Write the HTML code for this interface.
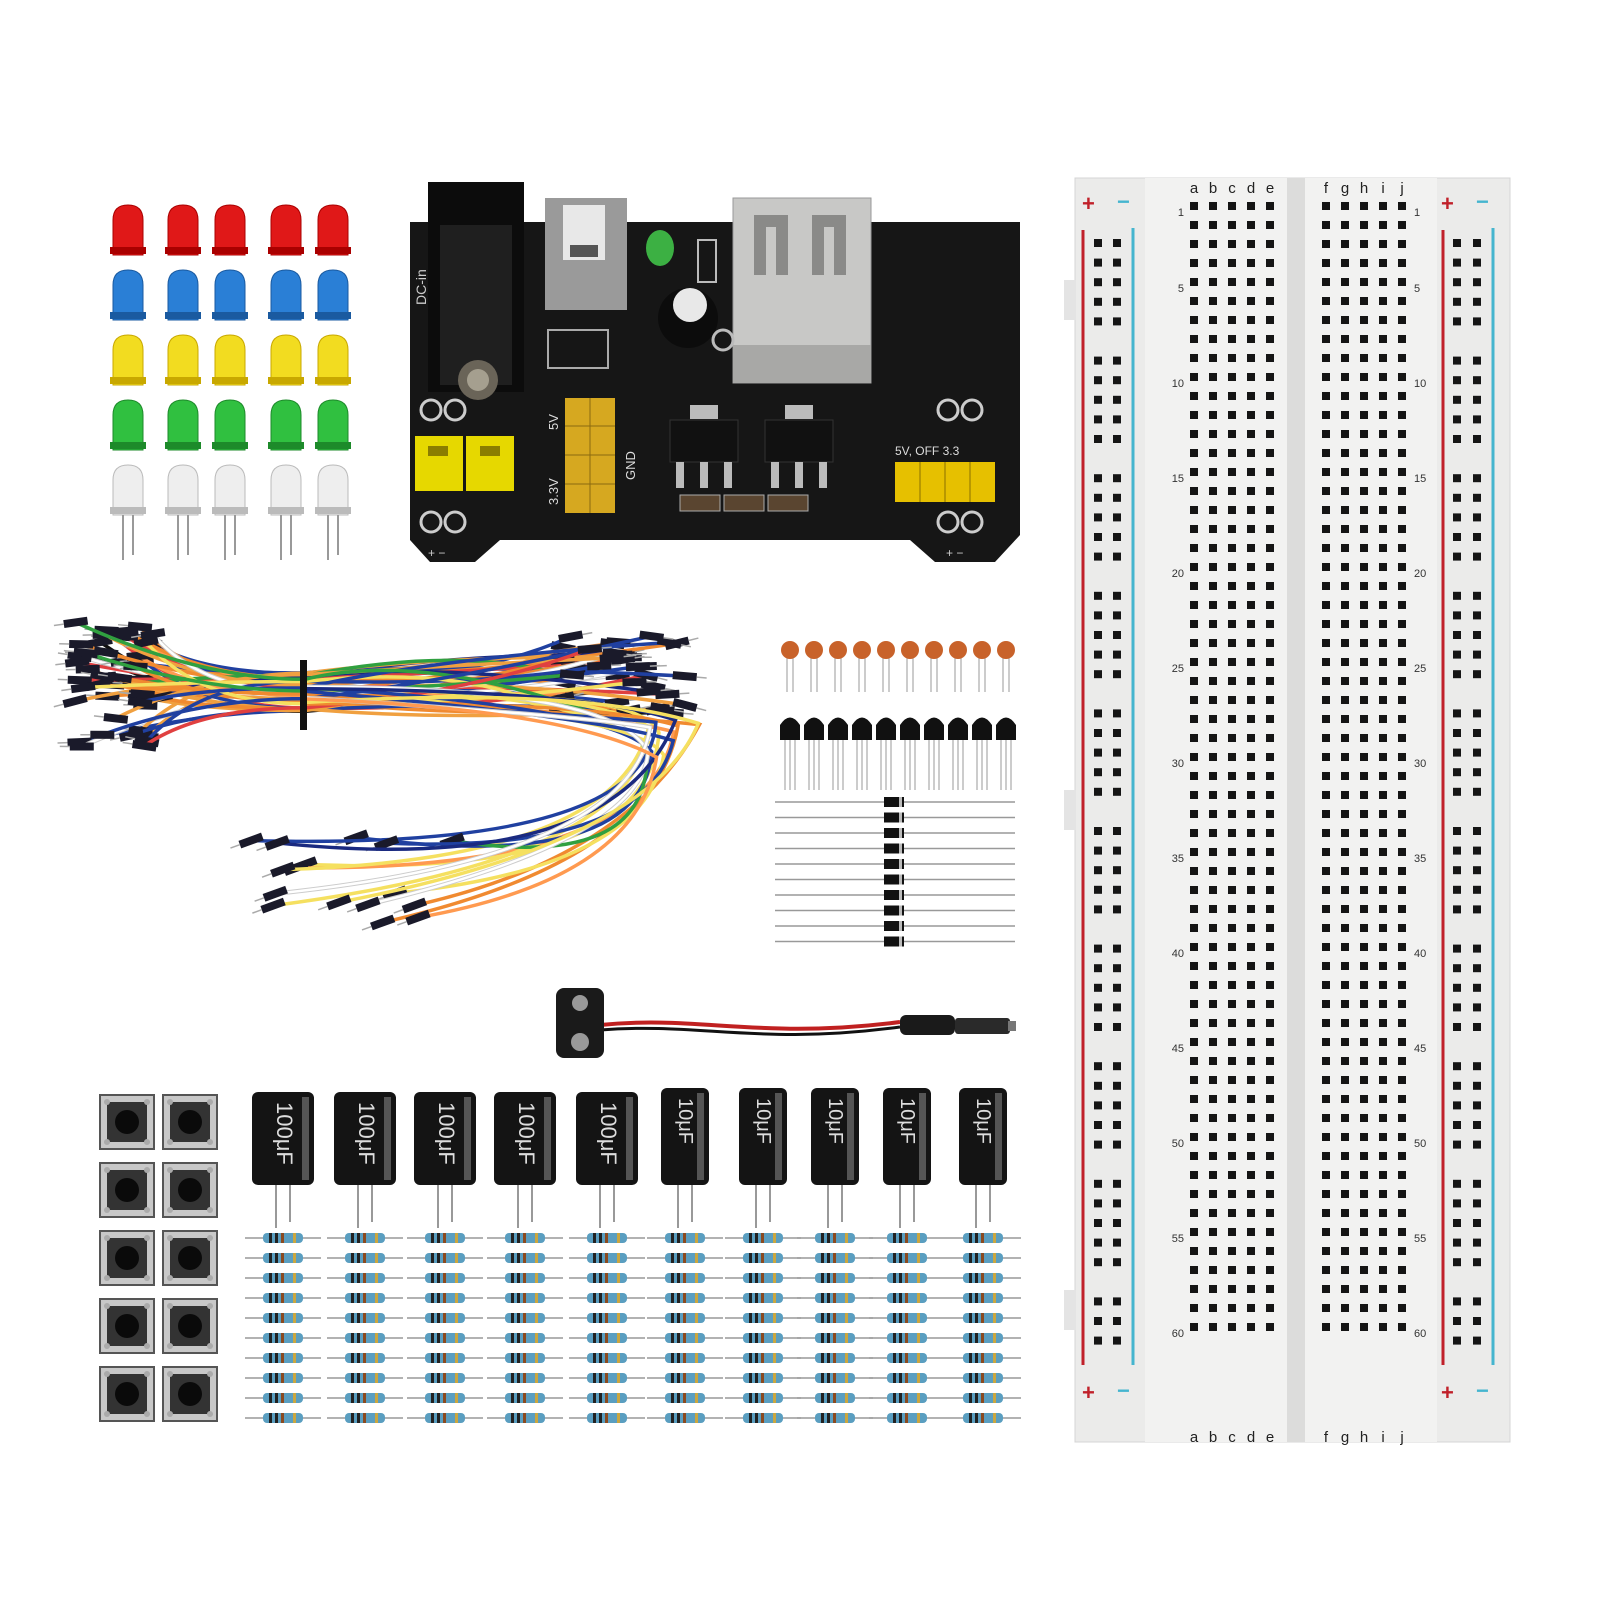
<!DOCTYPE html>
<html><head><meta charset="utf-8"><style>
html,body{margin:0;padding:0;background:#fff;width:1600px;height:1600px;overflow:hidden}
svg{display:block}
text{font-family:"Liberation Sans",sans-serif}
</style></head><body>
<svg id="s" width="1600" height="1600" viewBox="0 0 1600 1600" xmlns="http://www.w3.org/2000/svg">
<rect width="1600" height="1600" fill="#fff"/>
<rect x="1075" y="178" width="435" height="1264" fill="#ebebea" stroke="#d5d5d5"/>
<rect x="1145" y="178" width="142" height="1264" fill="#f2f2f1"/>
<rect x="1305" y="178" width="132" height="1264" fill="#f2f2f1"/>
<rect x="1287" y="178" width="18" height="1264" fill="#dcdcdb"/>
<rect x="1064" y="280" width="12" height="40" fill="#e4e4e4"/>
<rect x="1064" y="790" width="12" height="40" fill="#e4e4e4"/>
<rect x="1064" y="1290" width="12" height="40" fill="#e4e4e4"/>
<line x1="1083" y1="230" x2="1083" y2="1365" stroke="#c0202a" stroke-width="3"/>
<line x1="1133" y1="228" x2="1133" y2="1365" stroke="#45b5cf" stroke-width="3"/>
<line x1="1443" y1="230" x2="1443" y2="1365" stroke="#c0202a" stroke-width="3"/>
<line x1="1493" y1="228" x2="1493" y2="1365" stroke="#45b5cf" stroke-width="3"/>
<g font-size="22" font-weight="bold">
<text x="1082" y="211" fill="#c0202a">+</text><text x="1117" y="209" fill="#45b5cf">−</text>
<text x="1441" y="211" fill="#c0202a">+</text><text x="1476" y="209" fill="#45b5cf">−</text>
<text x="1082" y="1400" fill="#c0202a">+</text><text x="1117" y="1398" fill="#45b5cf">−</text>
<text x="1441" y="1400" fill="#c0202a">+</text><text x="1476" y="1398" fill="#45b5cf">−</text>
</g>
<g font-size="15" fill="#222" text-anchor="middle">
<text x="1194" y="193">a</text><text x="1213" y="193">b</text><text x="1232" y="193">c</text><text x="1251" y="193">d</text><text x="1270" y="193">e</text>
<text x="1326" y="193">f</text><text x="1345" y="193">g</text><text x="1364" y="193">h</text><text x="1383" y="193">i</text><text x="1402" y="193">j</text>
<text x="1194" y="1442">a</text><text x="1213" y="1442">b</text><text x="1232" y="1442">c</text><text x="1251" y="1442">d</text><text x="1270" y="1442">e</text>
<text x="1326" y="1442">f</text><text x="1345" y="1442">g</text><text x="1364" y="1442">h</text><text x="1383" y="1442">i</text><text x="1402" y="1442">j</text>
</g>
<g font-size="11" fill="#333" text-anchor="end">
<text x="1184" y="216">1</text><text x="1184" y="292">5</text><text x="1184" y="387">10</text><text x="1184" y="482">15</text><text x="1184" y="577">20</text><text x="1184" y="672">25</text><text x="1184" y="767">30</text><text x="1184" y="862">35</text><text x="1184" y="957">40</text><text x="1184" y="1052">45</text><text x="1184" y="1147">50</text><text x="1184" y="1242">55</text><text x="1184" y="1337">60</text>
</g>
<g font-size="11" fill="#333" text-anchor="start">
<text x="1414" y="216">1</text><text x="1414" y="292">5</text><text x="1414" y="387">10</text><text x="1414" y="482">15</text><text x="1414" y="577">20</text><text x="1414" y="672">25</text><text x="1414" y="767">30</text><text x="1414" y="862">35</text><text x="1414" y="957">40</text><text x="1414" y="1052">45</text><text x="1414" y="1147">50</text><text x="1414" y="1242">55</text><text x="1414" y="1337">60</text>
</g>
<g id="bb"></g>
<g id="leds"></g>
<path d="M410 222 L1020 222 L1020 535 L995 562 L935 562 L910 540 L500 540 L475 562 L430 562 L410 540 Z" fill="#161616"/>
<rect x="428" y="182" width="96" height="210" fill="#0c0c0c"/>
<rect x="440" y="225" width="72" height="160" fill="#1f1f1f"/>
<circle cx="478" cy="380" r="20" fill="#6a6458"/>
<circle cx="478" cy="380" r="11" fill="#a59f8f"/>
<text x="0" y="0" font-size="14" fill="#ccc" transform="translate(426 305) rotate(-90)">DC-in</text>
<rect x="545" y="198" width="82" height="112" fill="#9a9a9a"/>
<rect x="563" y="205" width="42" height="55" fill="#e8e8e8"/>
<rect x="570" y="245" width="28" height="12" fill="#555"/>
<rect x="548" y="330" width="60" height="38" fill="none" stroke="#aaa" stroke-width="2"/>
<ellipse cx="660" cy="248" rx="14" ry="18" fill="#3cb043"/>
<circle cx="688" cy="318" r="30" fill="#0c0c0c"/>
<circle cx="690" cy="305" r="17" fill="#e8e8e8"/>
<rect x="698" y="240" width="18" height="42" fill="none" stroke="#bbb" stroke-width="2"/>
<rect x="733" y="198" width="138" height="185" fill="#c8c8c6" stroke="#999"/>
<path d="M754 215 v60 h12 v-48 h10 v48 h12 v-60 z M812 215 v60 h12 v-48 h10 v48 h12 v-60 z" fill="#8a8a88"/>
<rect x="733" y="345" width="138" height="38" fill="#a8a8a6"/>
<circle cx="723" cy="340" r="10" fill="none" stroke="#bbb" stroke-width="3"/>
<circle cx="431" cy="410" r="10" fill="none" stroke="#ccc" stroke-width="3"/><circle cx="455" cy="410" r="10" fill="none" stroke="#ccc" stroke-width="3"/>
<circle cx="948" cy="410" r="10" fill="none" stroke="#ccc" stroke-width="3"/><circle cx="972" cy="410" r="10" fill="none" stroke="#ccc" stroke-width="3"/>
<circle cx="431" cy="522" r="10" fill="none" stroke="#ccc" stroke-width="3"/><circle cx="455" cy="522" r="10" fill="none" stroke="#ccc" stroke-width="3"/>
<circle cx="948" cy="522" r="10" fill="none" stroke="#ccc" stroke-width="3"/><circle cx="972" cy="522" r="10" fill="none" stroke="#ccc" stroke-width="3"/>
<rect x="415" y="436" width="48" height="55" fill="#e6d800"/><rect x="466" y="436" width="48" height="55" fill="#e6d800"/>
<rect x="428" y="446" width="20" height="10" fill="#8a7d00"/><rect x="480" y="446" width="20" height="10" fill="#8a7d00"/>
<rect x="565" y="398" width="50" height="115" fill="#d6a820"/>
<line x1="590" y1="398" x2="590" y2="513" stroke="#8a6a10"/><line x1="565" y1="426" x2="615" y2="426" stroke="#8a6a10"/><line x1="565" y1="455" x2="615" y2="455" stroke="#8a6a10"/><line x1="565" y1="484" x2="615" y2="484" stroke="#8a6a10"/>
<text font-size="13" fill="#ddd" transform="translate(558 430) rotate(-90)">5V</text>
<text font-size="13" fill="#ddd" transform="translate(558 505) rotate(-90)">3.3V</text>
<text font-size="13" fill="#ddd" transform="translate(635 480) rotate(-90)">GND</text>
<rect x="690" y="405" width="28" height="14" fill="#bbb"/><rect x="785" y="405" width="28" height="14" fill="#bbb"/>
<rect x="670" y="420" width="68" height="42" fill="#111" stroke="#333"/><rect x="765" y="420" width="68" height="42" fill="#111" stroke="#333"/>
<g fill="#bbb"><rect x="676" y="462" width="8" height="26"/><rect x="700" y="462" width="8" height="26"/><rect x="724" y="462" width="8" height="26"/><rect x="771" y="462" width="8" height="26"/><rect x="795" y="462" width="8" height="26"/><rect x="819" y="462" width="8" height="26"/></g>
<rect x="680" y="495" width="40" height="16" fill="#5a4530" stroke="#aaa"/><rect x="724" y="495" width="40" height="16" fill="#5a4530" stroke="#aaa"/><rect x="768" y="495" width="40" height="16" fill="#5a4530" stroke="#aaa"/>
<text x="895" y="455" font-size="12" fill="#ddd">5V, OFF 3.3</text>
<rect x="895" y="462" width="100" height="40" fill="#e6c000"/>
<g stroke="#8a7000"><line x1="920" y1="462" x2="920" y2="502"/><line x1="945" y1="462" x2="945" y2="502"/><line x1="970" y1="462" x2="970" y2="502"/></g>
<text x="428" y="557" font-size="12" fill="#ccc">+   −</text><text x="946" y="557" font-size="12" fill="#ccc">+   −</text>
<g id="wires"></g>
<g id="small"></g>
<path d="M600 1025 C700 1015 760 1040 900 1022" stroke="#c02020" stroke-width="4" fill="none"/>
<path d="M600 1030 C700 1022 760 1046 900 1027" stroke="#111" stroke-width="3" fill="none"/>
<rect x="556" y="988" width="48" height="70" rx="8" fill="#1a1a1a"/>
<circle cx="580" cy="1003" r="8" fill="#999"/><circle cx="580" cy="1042" r="9" fill="#999"/>
<rect x="900" y="1015" width="55" height="20" rx="6" fill="#1a1a1a"/>
<rect x="955" y="1018" width="55" height="16" rx="3" fill="#2a2a2a"/>
<rect x="1008" y="1021" width="8" height="10" fill="#777"/>
<g id="btn"></g>
<g id="caps"></g>
<g id="res"></g>
</svg>
<script>
const NS="http://www.w3.org/2000/svg";
function el(p,t,a){const e=document.createElementNS(NS,t);for(const k in a)e.setAttribute(k,a[k]);document.getElementById(p).appendChild(e);return e;}
const P=19, Y0=206;
[1194,1213,1232,1251,1270,1326,1345,1364,1383,1402].forEach(x=>{for(let r=0;r<60;r++)el("bb","rect",{x:x-4,y:Y0+r*P-4,width:8,height:8,fill:"#151515"});});
[1098,1117,1457,1477].forEach(x=>{for(let k=0;k<60;k++){if(k%6==5)continue;const y=243+k*19.6;if(y>1350)break;el("bb","rect",{x:x-4,y:y-4,width:8,height:8,fill:"#151515"});}});
const lx=[128,183,230,286,333],lc=[["#e01818","#a00"],["#2a7fd6","#1a5aa0"],["#f2dc20","#c8a800"],["#30c040","#1d8a2a"],["#eeeeee","#bbb"]],ly=[205,270,335,400,465];
lx.forEach(x=>{lc.forEach((c,i)=>{const y=ly[i];
 el("leds","path",{d:`M${x-15} ${y+50} L${x-15} ${y+15} Q${x-15} ${y} ${x} ${y} Q${x+15} ${y} ${x+15} ${y+15} L${x+15} ${y+50} Z`,fill:c[0],stroke:c[1]});
 el("leds","rect",{x:x-18,y:y+42,width:36,height:7,fill:c[1]});});
 el("leds","line",{x1:x-5,y1:515,x2:x-5,y2:560,stroke:"#999","stroke-width":2});
 el("leds","line",{x1:x+5,y1:515,x2:x+5,y2:555,stroke:"#999","stroke-width":2});});
let seed=7;function rnd(){seed=(seed*9301+49297)%233280;return seed/233280;}
const wc=["#f08a30","#f0a040","#2040a0","#1a2a80","#f5e060","#ffffff","#e04040","#30a040","#101010","#ff9a50","#f08a30","#2040a0"];
function wire(d,c){el("wires","path",{d,stroke:c==="#ffffff"?"#ccc":c,"stroke-width":c==="#ffffff"?4.5:3.5,fill:"none"});
 if(c==="#ffffff")el("wires","path",{d,stroke:c,"stroke-width":2.5,fill:"none"});}
function pin(x,y,a){el("wires","rect",{x:x-12,y:y-4,width:24,height:8,fill:"#1a1a2a",transform:`rotate(${a} ${x} ${y})`});
 el("wires","line",{x1:x-12,y1:y,x2:x-22,y2:y,stroke:"#aaa","stroke-width":1.5,transform:`rotate(${a} ${x} ${y})`});}
// main bundle
for(let i=0;i<50;i++){
 const c=wc[Math.floor(rnd()*wc.length)];
 const x1=75+rnd()*90,y1=620+rnd()*130;
 const ty=672+rnd()*40;
 const x2=560+rnd()*130,y2=635+rnd()*80;
 wire(`M${x1} ${y1} Q200 ${ty} 305 ${ty} Q${420+rnd()*80} ${ty-30+rnd()*50} ${x2} ${y2}`,c);
 pin(x1,y1,rnd()*30-15);pin(x2,y2,180+rnd()*30-15);
}
// hanging wires
for(let i=0;i<16;i++){const c=wc[Math.floor(rnd()*wc.length)];
 const x2=250+rnd()*220,y2=830+rnd()*110;
 wire(`M305 ${685+rnd()*20} Q${560+rnd()*80} ${680+rnd()*40} ${640+rnd()*60} ${720+rnd()*40} Q${600+rnd()*60} ${840+rnd()*40} ${x2} ${y2}`,c);
 pin(x2,y2,-20);}
el("wires","rect",{x:300,y:660,width:7,height:70,fill:"#111"});
for(let k=0;k<10;k++){const x=790+k*24;
 el("small","line",{x1:x-3,y1:655,x2:x-3,y2:692,stroke:"#999"});el("small","line",{x1:x+3,y1:655,x2:x+3,y2:692,stroke:"#999"});
 el("small","circle",{cx:x,cy:650,r:9,fill:"#c8622a"});
 el("small","path",{d:`M${x-10} 740 L${x-10} 725 Q${x} 710 ${x+10} 725 L${x+10} 740 Z`,fill:"#111"});
 [-5,0,5].forEach(o=>el("small","line",{x1:x+o,y1:740,x2:x+o,y2:790,stroke:"#999"}));}
for(let k=0;k<10;k++){const y=802+k*15.5;
 el("small","line",{x1:775,y1:y,x2:1015,y2:y,stroke:"#999","stroke-width":1.5});
 el("small","rect",{x:884,y:y-5,width:20,height:10,fill:"#111"});
 el("small","rect",{x:899,y:y-5,width:3,height:10,fill:"#bbb"});}
[127,190].forEach(x=>{for(let r=0;r<5;r++){const y=1122+r*68;
 el("btn","rect",{x:x-27,y:y-27,width:54,height:54,fill:"#c8c8c8",stroke:"#555","stroke-width":2});
 el("btn","rect",{x:x-20,y:y-20,width:40,height:40,fill:"#333"});
 el("btn","circle",{cx:x,cy:y,r:12,fill:"#0a0a0a"});
 [[-22,-22],[18,-22],[-22,18],[18,18]].forEach(o=>el("btn","circle",{cx:x+o[0]+2,cy:y+o[1]+2,r:3,fill:"#aaa"}));}});
const cx=[283,365,445,525,607,685,763,835,907,983];
cx.forEach((x,i)=>{const big=i<5,w=big?62:48,top=big?1092:1088,bot=1185;
 el("caps","line",{x1:x-7,y1:bot,x2:x-7,y2:1228,stroke:"#999","stroke-width":2});
 el("caps","line",{x1:x+7,y1:bot,x2:x+7,y2:1222,stroke:"#999","stroke-width":2});
 el("caps","rect",{x:x-w/2,y:top,width:w,height:bot-top,rx:6,fill:"#141414"});
 el("caps","rect",{x:x+w/2-12,y:top+5,width:7,height:bot-top-10,fill:"#555"});
 const t=el("caps","text",{x:0,y:0,"font-size":big?22:20,fill:"#ddd",transform:`translate(${x-6} ${top+10}) rotate(90)`});
 t.textContent=big?"100μF":"10μF";});
cx.forEach(x=>{for(let r=0;r<10;r++){const y=1238+r*20;
 el("res","line",{x1:x-38,y1:y,x2:x+38,y2:y,stroke:"#999","stroke-width":1.5});
 el("res","rect",{x:x-20,y:y-5,width:40,height:10,rx:4,fill:"#5a9ec0"});
 [-14,-8,-2,10].forEach((o,j)=>el("res","rect",{x:x+o,y:y-5,width:3,height:10,fill:["#222","#222","#8a4a20","#c9a640"][j]}));}});
</script>
</body></html>
